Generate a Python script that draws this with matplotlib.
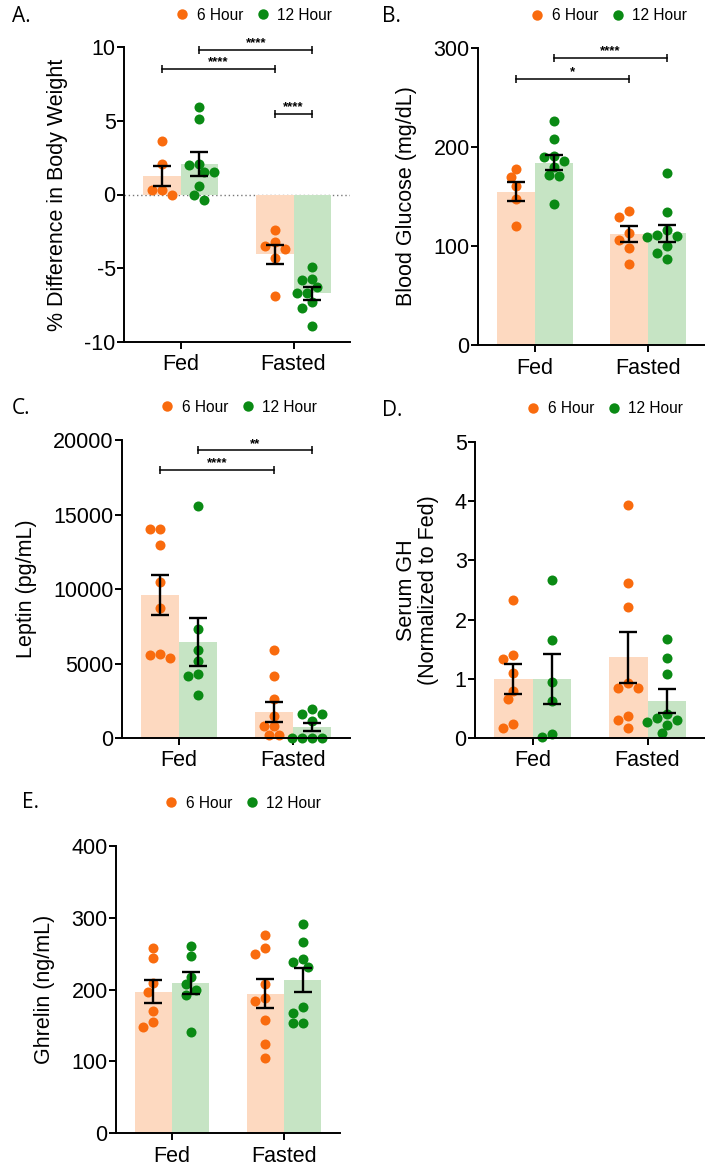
import matplotlib
matplotlib.use("Agg")
import matplotlib.pyplot as plt
import numpy as np
from matplotlib.lines import Line2D

# ---------------- data ----------------
categories = ["Fed", "Fasted"]
series = ["6 Hour", "12 Hour"]

# A. % difference in body weight
a_fed_6 = [3.6, 2.1, 0.3, 0.3, 0.0]
a_fed_12 = [5.9, 5.1, 2.1, 2.0, 1.5, 1.5, 0.6, 0.0, -0.4]
a_fas_6 = [-2.4, -3.2, -3.5, -3.7, -4.3, -6.9]
a_fas_12 = [-4.9, -5.7, -5.8, -6.3, -6.7, -6.7, -7.3, -7.7, -8.9]
a_mean_6 = [1.25, -4.05]
a_mean_12 = [2.05, -6.7]
a_sem_6 = [0.68, 0.64]
a_sem_12 = [0.8, 0.42]

# B. blood glucose
b_fed_6 = [178, 170, 161, 147, 120]
b_fed_12 = [226, 208, 191, 190, 186, 180, 172, 171, 142]
b_fas_6 = [135, 129, 113, 106, 98, 82]
b_fas_12 = [174, 134, 116, 111, 110, 109, 100, 93, 87]
b_mean_6 = [155, 112]
b_mean_12 = [184, 113]
b_sem_6 = [10, 8.4]
b_sem_12 = [7.5, 8.5]

# C. leptin
c_fed_6 = [14000, 14000, 12950, 10500, 8750, 5650, 5600, 5350]
c_fed_12 = [15600, 7300, 5900, 5200, 4300, 4150, 2900]
c_fas_6 = [5900, 4150, 2600, 1480, 800, 800, 200, 200]
c_fas_12 = [1950, 1610, 1610, 1140, 0, 0, 0, 0]
c_mean_6 = [9600, 1750]
c_mean_12 = [6450, 740]
c_sem_6 = [1355, 683]
c_sem_12 = [1613, 290]

# D. serum GH
d_fed_6 = [2.33, 1.40, 1.33, 1.10, 0.79, 0.66, 0.24, 0.17]
d_fed_12 = [2.67, 1.66, 0.95, 0.63, 0.07, 0.02]
d_fas_6 = [3.94, 2.61, 2.21, 0.93, 0.85, 0.84, 0.37, 0.30, 0.17]
d_fas_12 = [1.67, 1.35, 1.08, 0.40, 0.34, 0.30, 0.27, 0.22, 0.08]
d_mean_6 = [1.0, 1.36]
d_mean_12 = [1.0, 0.63]
d_sem_6 = [0.25, 0.435]
d_sem_12 = [0.42, 0.2]

# E. ghrelin
e_fed_6 = [258, 244, 209, 197, 170, 155, 148]
e_fed_12 = [261, 247, 218, 207, 199, 193, 141]
e_fas_6 = [276, 258, 249, 207, 188, 184, 157, 124, 105]
e_fas_12 = [291, 266, 242, 239, 231, 176, 167, 154, 154]
e_mean_6 = [197, 194]
e_mean_12 = [209, 213]
e_sem_6 = [16.3, 20]
e_sem_12 = [15, 17]

# significance brackets: (category_from, series_from, category_to, series_to, label, y)
a_sig = [(0, 0, 1, 0, "****", 8.5), (0, 1, 1, 1, "****", 9.8), (1, 0, 1, 1, "****", 5.45)]
b_sig = [(0, 0, 1, 0, "*", 269), (0, 1, 1, 1, "****", 290)]
c_sig = [(0, 0, 1, 0, "****", 18000), (0, 1, 1, 1, "**", 19300)]

# ---------------- style ----------------
W, H = 705, 1165
DOT = ["#F96B0E", "#0A8A14"]
BAR = ["#FDD9C0", "#C6E4C4"]
FONT = ["Liberation Sans", "DejaVu Sans"]
plt.rcParams["font.family"] = FONT
plt.rcParams["axes.unicode_minus"] = False

fig = plt.figure(figsize=(W / 100, H / 100), dpi=100)


def axes_px(l, t, r, b):
    return fig.add_axes([l / W, 1 - b / H, (r - l) / W, (b - t) / H])


def swarm_x(ax, xc, vals, d_px=5.0, r_px=9.0):
    placed = []
    out = []
    xc_pix = ax.transData.transform((xc, 0))[0]
    inv = ax.transData.inverted()
    seq = [0]
    for i in range(1, 16):
        seq += [-i, i]
    for v in vals:
        yp = ax.transData.transform((xc, v))[1]
        for k in seq:
            xp = xc_pix + k * d_px
            if all(np.hypot(xp - px, yp - py) >= r_px for px, py in placed):
                break
        placed.append((xp, yp))
        out.append(inv.transform((xp, yp))[0])
    return out


panels = [
    dict(rect=(124, 47, 350, 342), ylim=(-10, 10), yticks=[-10, -5, 0, 5, 10],
         ylabel="% Difference in Body Weight",
         pts=[[a_fed_6, a_fas_6], [a_fed_12, a_fas_12]],
         means=[a_mean_6, a_mean_12], sems=[a_sem_6, a_sem_12], sig=a_sig,
         letter="A.", letter_xy=(12, 16), leg_xy=(254, 15), zero=True),
    dict(rect=(478, 48, 705, 345), ylim=(0, 300), yticks=[0, 100, 200, 300],
         ylabel="Blood Glucose (mg/dL)",
         pts=[[b_fed_6, b_fas_6], [b_fed_12, b_fas_12]],
         means=[b_mean_6, b_mean_12], sems=[b_sem_6, b_sem_12], sig=b_sig,
         letter="B.", letter_xy=(382, 17), leg_xy=(609, 16), zero=False),
    dict(rect=(122, 440, 350, 738), ylim=(0, 20000), yticks=[0, 5000, 10000, 15000, 20000],
         ylabel="Leptin (pg/mL)",
         pts=[[c_fed_6, c_fas_6], [c_fed_12, c_fas_12]],
         means=[c_mean_6, c_mean_12], sems=[c_sem_6, c_sem_12], sig=c_sig,
         letter="C.", letter_xy=(12, 409), leg_xy=(239, 407), zero=False),
    dict(rect=(475, 442, 705, 738), ylim=(0, 5), yticks=[0, 1, 2, 3, 4, 5],
         ylabel="Serum GH\n(Normalized to Fed)",
         pts=[[d_fed_6, d_fas_6], [d_fed_12, d_fas_12]],
         means=[d_mean_6, d_mean_12], sems=[d_sem_6, d_sem_12], sig=[],
         letter="D.", letter_xy=(382, 410), leg_xy=(605, 409), zero=False),
    dict(rect=(116, 846, 340, 1133), ylim=(0, 400), yticks=[0, 100, 200, 300, 400],
         ylabel="Ghrelin (ng/mL)",
         pts=[[e_fed_6, e_fas_6], [e_fed_12, e_fas_12]],
         means=[e_mean_6, e_mean_12], sems=[e_sem_6, e_sem_12], sig=[],
         letter="E.", letter_xy=(22, 803), leg_xy=(243, 803), zero=False),
]

bw = 1 / 3
offs = [-1 / 6, 1 / 6]

for p in panels:
    ax = axes_px(*p["rect"])
    ax.set_xlim(-0.5, 1.5)
    ax.set_ylim(*p["ylim"])
    ax.set_yticks(p["yticks"])
    ax.set_xticks(range(len(categories)))
    ax.set_xticklabels(categories)
    for s in ("top", "right"):
        ax.spines[s].set_visible(False)
    for s in ("left", "bottom"):
        ax.spines[s].set_linewidth(1.4)
    ax.tick_params(axis="both", direction="out", length=5, width=1.4, labelsize=15.5)
    ax.tick_params(axis="y", pad=1)
    ax.tick_params(axis="x", pad=4)
    ax.set_ylabel(p["ylabel"], fontsize=15.5, labelpad=11.5, linespacing=1.05)
    if p["zero"]:
        ax.axhline(0, color="#777777", lw=1.0, ls=(0, (1, 2)), zorder=0)

    for si in range(2):
        xs = [ci + offs[si] for ci in range(len(categories))]
        ax.bar(xs, p["means"][si], width=bw, color=BAR[si], zorder=1, linewidth=0)
    for si in range(2):
        for ci in range(len(categories)):
            xc = ci + offs[si]
            vals = p["pts"][si][ci]
            sx = swarm_x(ax, xc, vals)
            ax.scatter(sx, vals, s=52, color=DOT[si], linewidths=0, zorder=2, clip_on=False)
    for si in range(2):
        xs = [ci + offs[si] for ci in range(len(categories))]
        ax.errorbar(xs, p["means"][si], yerr=p["sems"][si], fmt="none", ecolor="black",
                    elinewidth=1.7, capsize=6.5, capthick=1.7, zorder=3)

    for (c1, s1, c2, s2, lab, y) in p["sig"]:
        x1 = c1 + offs[s1]
        x2 = c2 + offs[s2]
        ax.plot([x1, x2], [y, y], color="black", lw=1.1, marker="|", markersize=6,
                mew=1.1, zorder=4, clip_on=False)
        ax.annotate(lab, xy=((x1 + x2) / 2, y), xytext=(0, 0.5), textcoords="offset points",
                    ha="center", va="bottom", fontsize=9.5, fontweight="bold")

    # panel letter
    fig.text(p["letter_xy"][0] / W, 1 - p["letter_xy"][1] / H, p["letter"],
             fontsize=15, family=["Open Sans", "DejaVu Sans"], ha="left", va="center")
    # legend
    handles = [Line2D([], [], ls="none", marker="o", markersize=7.5, color=DOT[i],
                      markeredgewidth=0) for i in range(2)]
    fig.legend(handles, series, loc="center",
               bbox_to_anchor=(p["leg_xy"][0] / W, 1 - p["leg_xy"][1] / H),
               ncol=2, frameon=False, fontsize=11.2, handlelength=0.8,
               handletextpad=0.55, columnspacing=0.85, borderpad=0)

fig.savefig("out.png", dpi=100)
